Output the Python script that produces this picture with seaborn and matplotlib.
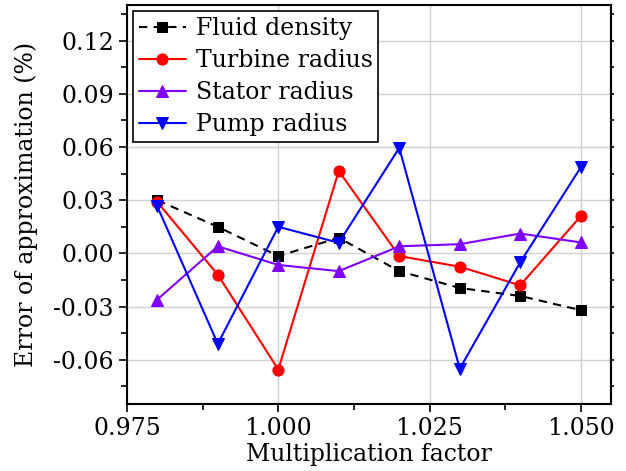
import pandas as pd
import matplotlib.pyplot as plt
import seaborn as sns
from matplotlib.ticker import MultipleLocator, FormatStrFormatter

factor = [0.98, 0.99, 1.00, 1.01, 1.02, 1.03, 1.04, 1.05]
fluid_density = [0.0300, 0.0150, -0.0015, 0.0088, -0.0100, -0.0195, -0.0240, -0.0320]
turbine_radius = [0.0290, -0.0120, -0.0655, 0.0465, -0.0015, -0.0075, -0.0180, 0.0210]
stator_radius = [-0.0260, 0.0040, -0.0065, -0.0100, 0.0040, 0.0052, 0.0112, 0.0062]
pump_radius = [0.0265, -0.0510, 0.0150, 0.0060, 0.0595, -0.0650, -0.0050, 0.0485]

sns.set_style('white')
plt.rcParams['font.family'] = ['DejaVu Serif']
plt.rcParams['text.color'] = 'black'
plt.rcParams['axes.labelcolor'] = 'black'
plt.rcParams['xtick.color'] = 'black'
plt.rcParams['ytick.color'] = 'black'

fig = plt.figure(figsize=(6.26, 4.71), dpi=100)
ax = fig.add_axes([0.203, 0.142, 0.773, 0.847])

series = [
    ('Fluid density', fluid_density, 'black', 's', (4, 3), 7),
    ('Turbine radius', turbine_radius, '#ff0000', 'o', None, 8),
    ('Stator radius', stator_radius, '#8000ff', '^', None, 8),
    ('Pump radius', pump_radius, '#0000ff', 'v', None, 8),
]

for name, vals, color, marker, dash, ms in series:
    df = pd.DataFrame({'factor': factor, 'err': vals})
    sns.lineplot(data=df, x='factor', y='err', ax=ax, color=color, marker=marker,
                 markersize=ms, markeredgecolor=color, linewidth=1.5, label=name,
                 zorder=3)
    if dash is not None:
        ax.lines[-1].set_dashes(dash)

ax.set_xlim(0.975, 1.055)
ax.set_ylim(-0.085, 0.14)
ax.xaxis.set_major_locator(MultipleLocator(0.025))
ax.xaxis.set_minor_locator(MultipleLocator(0.0125))
ax.yaxis.set_major_locator(MultipleLocator(0.03))
ax.yaxis.set_minor_locator(MultipleLocator(0.015))
ax.xaxis.set_major_formatter(FormatStrFormatter('%.3f'))
ax.yaxis.set_major_formatter(FormatStrFormatter('%.2f'))

ax.grid(True, which='major', color='#d0d0d0', linewidth=1.0, zorder=0)
ax.set_axisbelow(True)
for s in ax.spines.values():
    s.set_color('black')
    s.set_linewidth(1.5)

ax.tick_params(axis='both', which='major', direction='out', length=6, width=1.2,
               labelsize=17, left=True, bottom=True)
ax.tick_params(axis='both', which='minor', direction='out', length=4, width=1.2,
               left=True, bottom=True)

# short mirrored ticks on the right spine
sec = ax.secondary_yaxis('right')
sec.yaxis.set_major_locator(MultipleLocator(0.03))
sec.yaxis.set_minor_locator(MultipleLocator(0.015))
sec.tick_params(which='both', direction='out', length=2, width=1.2, labelright=False)
sec.spines['right'].set_linewidth(1.5)

ax.set_xlabel('Multiplication factor', fontsize=17, labelpad=2)
ax.set_ylabel('Error of approximation (%)', fontsize=17, labelpad=11)

leg = ax.legend(loc='upper left', fontsize=17, frameon=True, fancybox=False,
                edgecolor='black', borderpad=0.25, labelspacing=0.38,
                handlelength=2.0, handletextpad=0.4, borderaxespad=0.25)
leg.get_frame().set_linewidth(1.2)
leg.get_frame().set_alpha(1)

fig.savefig('out.png', dpi=100)
